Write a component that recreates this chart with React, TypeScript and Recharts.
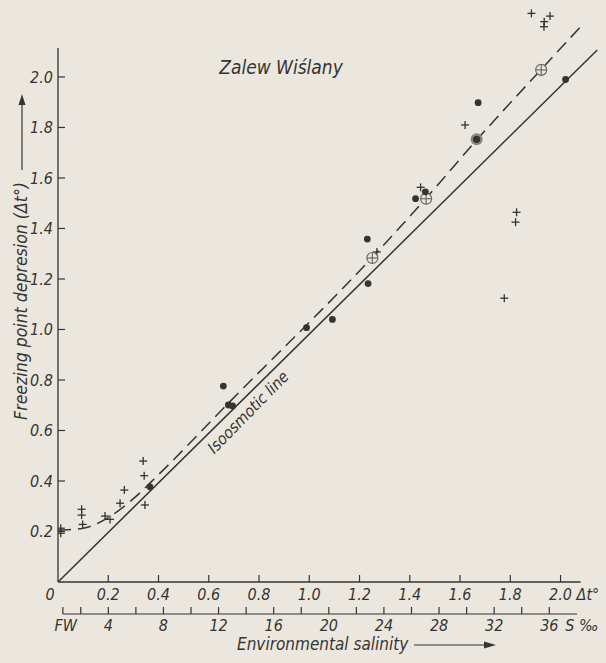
import React from 'react'
import { ComposedChart, Line, Scatter, XAxis, YAxis, ReferenceLine } from 'recharts'

const INK = '#353431'
const PAPER = '#ebe7df'
const FONT = "'DejaVu Sans Condensed', 'DejaVu Sans', sans-serif"

/* ---------- Data ---------- */

// freezing point depression axes (Δt°)
const dtTicks = [0, 0.2, 0.4, 0.6, 0.8, 1.0, 1.2, 1.4, 1.6, 1.8, 2.0]
const dtTickLabels = ['0', '0.2', '0.4', '0.6', '0.8', '1.0', '1.2', '1.4', '1.6', '1.8', '2.0']
const yTicks = [0.2, 0.4, 0.6, 0.8, 1.0, 1.2, 1.4, 1.6, 1.8, 2.0]
const yTickLabels = ['0.2', '0.4', '0.6', '0.8', '1.0', '1.2', '1.4', '1.6', '1.8', '2.0']

// environmental salinity axis (‰), FW = fresh water
const salTicks = [0.7, 2, 4, 6, 8, 10, 12, 14, 16, 18, 20, 22, 24, 26, 28, 30, 32, 34, 36]
const salTickLabels = ['FW', '', '4', '', '8', '', '12', '', '16', '', '20', '', '24', '', '28', '', '32', '', '36']

// isosmotic line (solid)
const isosmoticLine = [
    { x: 0, y: 0 },
    { x: 2.146, y: 2.107 },
]

// body fluid trend (dashed)
const bodyFluidLine = [
    { x: 0, y: 0.205 },
    { x: 0.1, y: 0.213 },
    { x: 0.2, y: 0.255 },
    { x: 0.3, y: 0.33 },
    { x: 0.4, y: 0.425 },
    { x: 0.68, y: 0.71 },
    { x: 1.25, y: 1.285 },
    { x: 1.465, y: 1.52 },
    { x: 1.666, y: 1.75 },
    { x: 1.923, y: 2.03 },
    { x: 2.093, y: 2.213 },
]

// filled dots
const dots = [
    { x: 0.366, y: 0.377 },
    { x: 0.658, y: 0.776 },
    { x: 0.678, y: 0.701 },
    { x: 0.695, y: 0.697 },
    { x: 0.989, y: 1.007 },
    { x: 1.092, y: 1.04 },
    { x: 1.231, y: 1.358 },
    { x: 1.234, y: 1.182 },
    { x: 1.423, y: 1.518 },
    { x: 1.462, y: 1.545 },
    { x: 1.672, y: 1.898 },
    { x: 2.02, y: 1.99 },
]

// circles with a cross
const crossedCircles = [
    { x: 1.251, y: 1.283 },
    { x: 1.465, y: 1.518 },
    { x: 1.923, y: 2.028 },
]

// dot in a ring
const ringedDots = [{ x: 1.666, y: 1.753 }]

// crosses
const crosses = [
    { x: 0.011, y: 0.213 },
    { x: 0.011, y: 0.193 },
    { x: 0.094, y: 0.288 },
    { x: 0.094, y: 0.265 },
    { x: 0.098, y: 0.228 },
    { x: 0.187, y: 0.261 },
    { x: 0.207, y: 0.248 },
    { x: 0.247, y: 0.312 },
    { x: 0.264, y: 0.364 },
    { x: 0.339, y: 0.479 },
    { x: 0.343, y: 0.421 },
    { x: 0.346, y: 0.305 },
    { x: 1.269, y: 1.307 },
    { x: 1.443, y: 1.563 },
    { x: 1.62, y: 1.81 },
    { x: 1.776, y: 1.124 },
    { x: 1.825, y: 1.464 },
    { x: 1.821, y: 1.425 },
    { x: 1.884, y: 2.252 },
    { x: 1.958, y: 2.241 },
    { x: 1.935, y: 2.219 },
    { x: 1.934, y: 2.199 },
]

// the salinity axis has no series of its own, so it reads its table from the chart data
const salinityScale = salTicks.map((s, i) => ({ s, label: salTickLabels[i] }))

/* ---------- Marks ---------- */

const DotShape = (p: any) => <circle cx={p.cx} cy={p.cy} r={3.4} fill={INK} />

const CrossShape = (p: any) => (
    <g stroke={INK} strokeWidth={1.3}>
        <line x1={p.cx - 4} x2={p.cx + 4} y1={p.cy} y2={p.cy} />
        <line x1={p.cx} x2={p.cx} y1={p.cy - 4} y2={p.cy + 4} />
    </g>
)

const CrossedCircleShape = (p: any) => (
    <g stroke="#6b6965" strokeWidth={1.2}>
        <circle cx={p.cx} cy={p.cy} r={5.5} fill={PAPER} />
        <line x1={p.cx - 5.5} x2={p.cx + 5.5} y1={p.cy} y2={p.cy} />
        <line x1={p.cx} x2={p.cx} y1={p.cy - 5.5} y2={p.cy + 5.5} />
    </g>
)

const RingedDotShape = (p: any) => (
    <g>
        <circle cx={p.cx} cy={p.cy} r={6} fill="#8a8782" />
        <circle cx={p.cx} cy={p.cy} r={3.6} fill={INK} />
    </g>
)

/* ---------- Ticks (inward tick marks, labels outside) ---------- */

const textStyle = { fontFamily: FONT, fontStyle: 'italic', fontSize: 16, fill: INK } as const

const DtTick = (props: any) => {
    const { x, y, payload, index } = props
    const v = payload.value
    const label = dtTickLabels[dtTicks.indexOf(v)] ?? ''
    return (
        <g>
            {v > 0 && <line x1={x} x2={x} y1={y} y2={y - 7} stroke={INK} strokeWidth={1.2} />}
            <text x={v === 0 ? x - 8 : x} y={y + 18} textAnchor="middle" style={textStyle}>
                {label}
            </text>
            {index === dtTicks.length - 1 && (
                <text x={x + 16} y={y + 18} textAnchor="start" style={textStyle}>
                    Δt°
                </text>
            )}
        </g>
    )
}

const YTick = (props: any) => {
    const { x, y, payload } = props
    const label = yTickLabels[yTicks.indexOf(payload.value)] ?? ''
    return (
        <g>
            <line x1={x} x2={x + 7} y1={y} y2={y} stroke={INK} strokeWidth={1.2} />
            <text x={x - 5} y={y + 6} textAnchor="end" style={textStyle}>
                {label}
            </text>
        </g>
    )
}

const SalTick = (props: any) => {
    const { x, y, payload, index } = props
    const label = salTickLabels[salTicks.indexOf(payload.value)] ?? ''
    return (
        <g>
            <line x1={x} x2={x} y1={y} y2={y - 7} stroke={INK} strokeWidth={1.2} />
            <text x={index === 0 ? x + 3 : x} y={y + 17} textAnchor="middle" style={textStyle}>
                {label}
            </text>
            {index === salTicks.length - 1 && (
                <text x={x + 16} y={y + 17} textAnchor="start" style={textStyle}>
                    S ‰
                </text>
            )}
        </g>
    )
}

/* ---------- Component ---------- */

export default function App() {
    return (
        <div style={{ position: 'relative', width: 606, height: 663, background: PAPER }}>
            <style>{`body{margin:0;background:${PAPER}}`}</style>
            <ComposedChart
                width={606}
                height={663}
                data={salinityScale}
                margin={{ top: 5, right: 6, bottom: 0, left: 0 }}
            >
                <XAxis
                    type="number"
                    dataKey="x"
                    domain={[0, 2.157]}
                    allowDataOverflow
                    ticks={dtTicks}
                    interval={0}
                    height={32}
                    axisLine={false}
                    tickLine={false}
                    tickSize={0}
                    tickMargin={0}
                    tick={<DtTick />}
                />
                <XAxis
                    xAxisId="sal"
                    type="number"
                    dataKey="s"
                    domain={[0.348, 39.68]}
                    allowDataOverflow
                    ticks={salTicks}
                    interval={0}
                    height={49}
                    axisLine={{ stroke: INK, strokeWidth: 1.2, strokeDasharray: '0 5 514 1000' }}
                    tickLine={false}
                    tickSize={0}
                    tickMargin={0}
                    tick={<SalTick />}
                />
                <YAxis
                    type="number"
                    dataKey="y"
                    domain={[0, 2.285]}
                    allowDataOverflow
                    ticks={yTicks}
                    interval={0}
                    width={58}
                    axisLine={false}
                    tickLine={false}
                    tickSize={0}
                    tickMargin={0}
                    tick={<YTick />}
                />

                {/* axis lines */}
                <ReferenceLine segment={[{ x: 0, y: 0 }, { x: 2.08, y: 0 }]} stroke={INK} strokeWidth={1.3} ifOverflow="visible" />
                <ReferenceLine segment={[{ x: 0, y: 0 }, { x: 0, y: 2.115 }]} stroke={INK} strokeWidth={1.3} ifOverflow="visible" />

                <Line data={isosmoticLine} dataKey="y" type="linear" stroke={INK} strokeWidth={1.5} dot={false} isAnimationActive={false} />
                <Line data={bodyFluidLine} dataKey="y" type="monotone" stroke={INK} strokeWidth={1.5} strokeDasharray="13 7" dot={false} isAnimationActive={false} />

                <Scatter data={crosses} shape={<CrossShape />} isAnimationActive={false} />
                <Scatter data={crossedCircles} shape={<CrossedCircleShape />} isAnimationActive={false} />
                <Scatter data={ringedDots} shape={<RingedDotShape />} isAnimationActive={false} />
                <Scatter data={dots} shape={<DotShape />} isAnimationActive={false} />
            </ComposedChart>

            {/* annotations */}
            <svg width={606} height={663} style={{ position: 'absolute', left: 0, top: 0, pointerEvents: 'none' }}>
                <text x={281} y={74} textAnchor="middle" style={{ ...textStyle, fontSize: 19 }}>
                    Zalew Wiślany
                </text>
                <text
                    transform="translate(252,416) rotate(-45.5)"
                    textAnchor="middle"
                    style={{ ...textStyle, fontSize: 16 }}
                >
                    Isoosmotic line
                </text>
                <g transform="translate(27,301) rotate(-90)">
                    <text x={0} y={0} textAnchor="middle" style={{ ...textStyle, fontSize: 17.5 }}>
                        Freezing point depresion (Δt°)
                    </text>
                    <line x1={131} x2={198} y1={-5} y2={-5} stroke={INK} strokeWidth={1.2} />
                    <polygon points="207,-5 196,-8.5 196,-1.5" fill={INK} />
                </g>
                <text x={237} y={650} textAnchor="start" style={{ ...textStyle, fontSize: 17 }}>
                    Environmental salinity
                </text>
                <line x1={414} x2={485} y1={645} y2={645} stroke={INK} strokeWidth={1.2} />
                <polygon points="496,645 484,641.5 484,648.5" fill={INK} />
            </svg>
        </div>
    )
}
